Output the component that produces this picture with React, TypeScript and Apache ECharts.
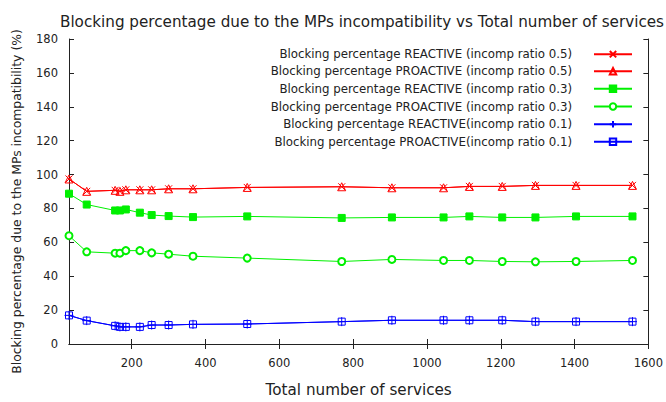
import React, { useEffect, useRef } from "react";
import * as echarts from "echarts";

const services = [30, 78, 155, 168, 184, 222, 254, 300, 366, 513, 769, 905, 1045, 1115, 1204, 1294, 1404, 1557];

const reactive05 = [97.4, 90.1, 90.7, 90.1, 91.0, 91.0, 91.0, 91.6, 91.6, 92.4, 92.8, 92.2, 92.2, 93.0, 93.0, 93.6, 93.6, 93.6];
const proactive05 = [97.4, 90.1, 90.7, 90.1, 91.0, 91.0, 91.0, 91.6, 91.6, 92.4, 92.8, 92.2, 92.2, 93.0, 93.0, 93.6, 93.6, 93.6];
const reactive03 = [88.7, 82.3, 78.8, 78.8, 79.4, 77.5, 76.1, 75.5, 74.9, 75.3, 74.4, 74.7, 74.7, 75.3, 74.7, 74.7, 75.3, 75.3];
const proactive03 = [63.9, 54.4, 53.6, 53.6, 55.1, 55.1, 53.8, 53.0, 51.8, 50.7, 48.7, 49.9, 49.3, 49.3, 48.7, 48.5, 48.7, 49.3];
const reactive01 = [16.9, 13.8, 10.7, 10.1, 10.1, 10.1, 11.2, 11.2, 11.6, 11.8, 13.2, 14.0, 14.0, 14.0, 14.0, 13.2, 13.2, 13.2];
const proactive01 = [16.9, 13.8, 10.7, 10.1, 10.1, 10.1, 11.2, 11.2, 11.6, 11.8, 13.2, 14.0, 14.0, 14.0, 14.0, 13.2, 13.2, 13.2];

const xTicks = [200, 400, 600, 800, 1000, 1200, 1400, 1600];
const xMin = 30;
const xMax = 1600;

const seriesNames = [
  "Blocking percentage REACTIVE (incomp ratio 0.5)",
  "Blocking percentage PROACTIVE (incomp ratio 0.5)",
  "Blocking percentage REACTIVE (incomp ratio 0.3)",
  "Blocking percentage PROACTIVE (incomp ratio 0.3)",
  "Blocking percentage REACTIVE(incomp ratio 0.1)",
  "Blocking percentage PROACTIVE(incomp ratio 0.1)",
];

const FONT = "DejaVu Sans";
const AXIS = "#222";

export default function App() {
  const ref = useRef<HTMLDivElement>(null);
  useEffect(() => {
    document.body.style.margin = "0";
    if (!ref.current) return;
    const chart = echarts.init(ref.current, null, { renderer: "svg" });
    const values = [reactive05, proactive05, reactive03, proactive03, reactive01, proactive01];
    const colors = ["#ff0000", "#ff0000", "#00f000", "#00f000", "#0000ff", "#0000ff"];
    const symbols = [
      "path://M0,0L10,10M10,0L0,10",
      "path://M5,0L10,9L0,9Z",
      "rect",
      "emptyCircle",
      "path://M5,0L5,10M0,5L10,5",
      "path://M0,0L10,0L10,10L0,10Z",
    ];
    const sizes = [7, 8, 7, 7, 9, 7];
    const transparentFill = [true, true, false, false, true, true];
    const series = values.map((vals, i) => ({
      name: seriesNames[i],
      type: "line",
      data: services.map((x, j) => [x, vals[j]]),
      symbol: symbols[i],
      symbolSize: sizes[i],
      showAllSymbol: true,
      lineStyle: { color: colors[i], width: 1 },
      itemStyle: {
        color: transparentFill[i] ? "rgba(0,0,0,0)" : colors[i],
        borderColor: colors[i],
        borderWidth: 1,
      },
      emphasis: { disabled: true },
    }));
    const rowsY = [55.7, 72.7, 90.3, 108, 125.7, 143.3];
    const legends = seriesNames.map((name, i) => ({
      data: [name],
      right: 33,
      top: rowsY[i] - 7.5,
      orient: "vertical",
      align: "right",
      itemWidth: 38,
      itemHeight: 8,
      padding: 0,
      selectedMode: false,
      textStyle: { fontFamily: FONT, fontSize: 11.8, color: "#222", padding: [0, 17, 0, 0] },
    }));
    const tickCommon = { inside: true, length: 5, lineStyle: { color: AXIS } };
    chart.setOption({
      animation: false,
      backgroundColor: "#fff",
      title: {
        text: "Blocking percentage due to the MPs incompatibility vs Total number of services",
        left: 357,
        top: 9,
        textAlign: "center",
        textStyle: { fontFamily: FONT, fontSize: 15.2, fontWeight: "normal", color: "#222" },
      },
      legend: legends,
      grid: { left: 69, right: 17, top: 39, bottom: 54 },
      xAxis: [
        {
          type: "value",
          position: "bottom",
          min: xMin,
          max: xMax,
          name: "Total number of services",
          nameLocation: "middle",
          nameGap: 38,
          nameTextStyle: { fontFamily: FONT, fontSize: 15.2, color: "#222" },
          axisLine: { lineStyle: { color: AXIS } },
          axisTick: { ...tickCommon, customValues: xTicks },
          axisLabel: {
            customValues: xTicks,
            formatter: (v: number) => String(v),
            fontFamily: FONT,
            fontSize: 11.5,
            color: "#222",
            margin: 13,
          },
          splitLine: { show: false },
        },
        {
          type: "value",
          position: "top",
          min: xMin,
          max: xMax,
          axisLine: { lineStyle: { color: AXIS } },
          axisTick: { ...tickCommon, customValues: xTicks },
          axisLabel: { show: false },
          splitLine: { show: false },
        },
      ],
      yAxis: [
        {
          type: "value",
          position: "left",
          min: 0,
          max: 180,
          interval: 20,
          name: "Blocking percentage due to the MPs incompatibility (%)",
          nameLocation: "middle",
          nameGap: 47,
          nameTextStyle: { fontFamily: FONT, fontSize: 12.4, color: "#222", padding: [0, 20, 0, 0] },
          axisLine: { show: true, lineStyle: { color: AXIS } },
          axisTick: { show: true, ...tickCommon },
          axisLabel: { fontFamily: FONT, fontSize: 11.5, color: "#222", margin: 11, padding: [8, 0, 0, 0] },
          splitLine: { show: false },
        },
        {
          type: "value",
          position: "right",
          min: 0,
          max: 180,
          interval: 20,
          axisLine: { show: true, lineStyle: { color: AXIS } },
          axisTick: { show: true, ...tickCommon },
          axisLabel: { show: false },
          splitLine: { show: false },
        },
      ],
      series,
    });
    return () => chart.dispose();
  }, []);
  return <div ref={ref} style={{ width: 666, height: 402 }} />;
}
